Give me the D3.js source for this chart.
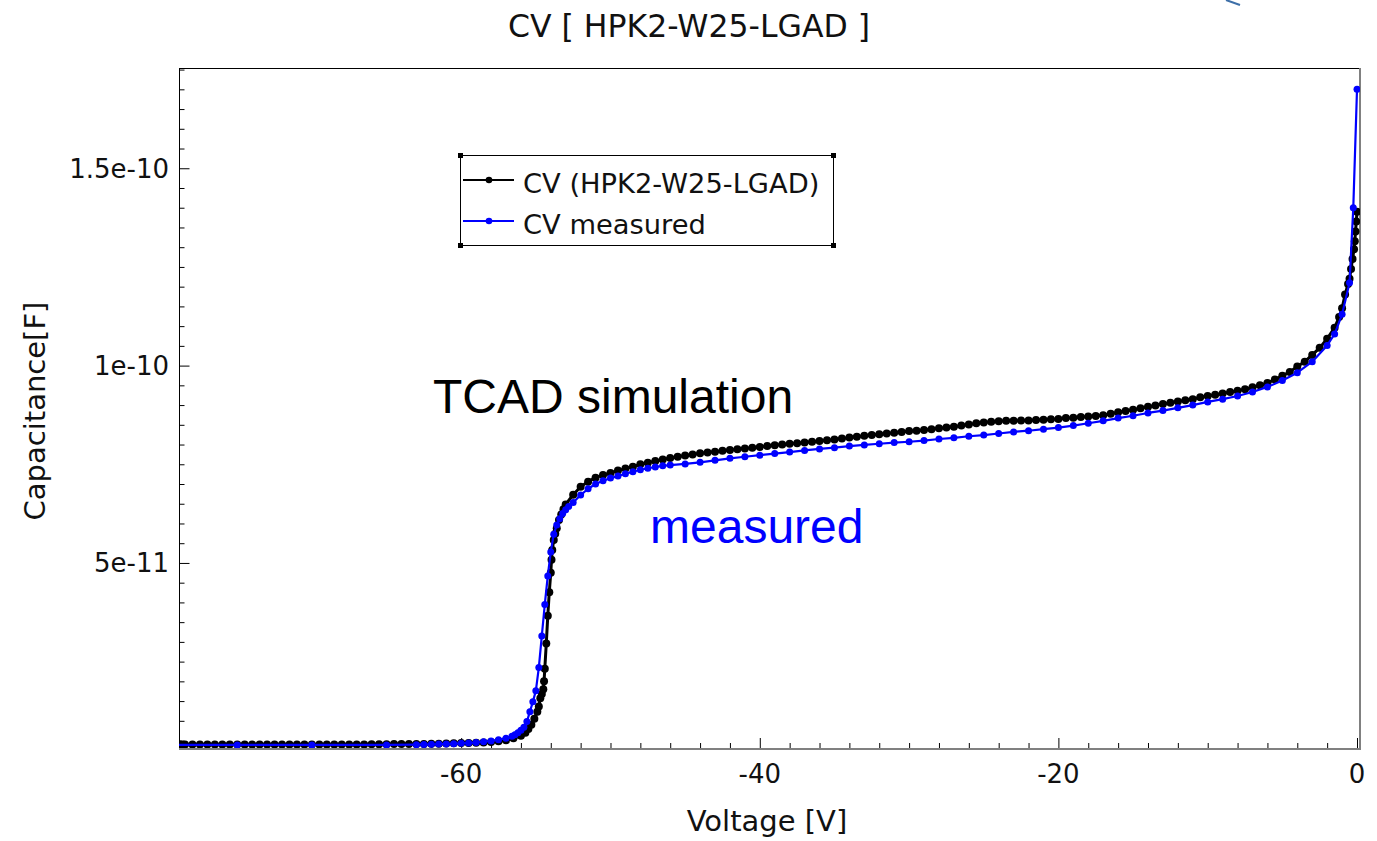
<!DOCTYPE html>
<html>
<head>
<meta charset="utf-8">
<script src="https://cdn.jsdelivr.net/npm/d3@7"></script>
<style>
  html, body { margin: 0; padding: 0; background: #fff; }
  svg { display: block; }
  text { font-family: "DejaVu Sans", sans-serif; }
</style>
</head>
<body>
<svg id="chart" width="1377" height="841"></svg>
<script>
// ---------------- DATA (capacitance in pF, voltage in V) ----------------
const titleText = "CV [ HPK2-W25-LGAD ]";
const xLabel = "Voltage [V]";
const yLabel = "Capacitance[F]";
const seriesNames = ["CV (HPK2-W25-LGAD)", "CV measured"];

const xMajorTicks = [-60, -40, -20, 0];
const xTickLabels = ["-60", "-40", "-20", "0"];
const yMajorTicks = [50, 100, 150];
const yTickLabels = ["5e-11", "1e-10", "1.5e-10"];

// TCAD simulation
const simV = [
  -78.8, -78.5, -78, -77.5, -77, -76.5, -76, -75.5, -75, -74.5, -74, -73.5, -73, -72.5, -72, -71.5, -71, -70.5, -70,
  -69.5, -69, -68.5, -68, -67.5, -67, -66.5, -66, -65.5, -65, -64.5, -64, -63.5, -63, -62.5, -62, -61.5, -61, -60.5,
  -60, -59.5, -59, -58.5, -58, -57.5, -57, -56.5, -56, -55.7, -55.5, -55.3, -55.1, -54.9, -54.8, -54.7, -54.6, -54.5,
  -54.45, -54.4, -54.3, -54.2, -54.1, -54.0, -53.95, -53.9, -53.8, -53.7, -53.6, -53.45, -53.3, -53.15,
  -53.0, -52.5, -52.0, -51.5, -51.0, -50.5, -50.0, -49.5, -49.0, -48.5, -48.0, -47.5, -47.0, -46.5, -46.0, -45.5,
  -45.0, -44.5, -44.0, -43.5, -43.0, -42.5, -42.0, -41.5, -41.0, -40.5, -40.0, -39.5, -39.0, -38.5, -38.0, -37.5,
  -37.0, -36.5, -36.0, -35.5, -35.0, -34.5, -34.0, -33.5, -33.0, -32.5, -32.0, -31.5, -31.0, -30.5, -30.0, -29.5,
  -29.0, -28.5, -28.0, -27.5, -27.0, -26.5, -26.0, -25.5, -25.0, -24.5, -24.0, -23.5, -23.0, -22.5, -22.0, -21.5,
  -21.0, -20.5, -20.0, -19.5, -19.0, -18.5, -18.0, -17.5, -17.0, -16.5, -16.0, -15.5, -15.0, -14.5, -14.0, -13.5,
  -13.0, -12.5, -12.0, -11.5, -11.0, -10.5, -10.0, -9.5, -9.0, -8.5, -8.0, -7.5, -7.0, -6.5, -6.0, -5.5,
  -5.0, -4.5, -4.0, -3.5, -3.0, -2.5, -2.0, -1.5, -1.2, -1.0, -0.8, -0.6, -0.5, -0.4, -0.3, -0.2, -0.15, -0.1, -0.05, 0
];
const simC = [
  4.0, 4.0, 4.0, 4.0, 4.0, 4.0, 4.0, 4.0, 4.0, 4.0, 4.0, 4.0, 4.0, 4.0, 4.0, 4.0, 4.0, 4.0, 4.0,
  4.0, 4.0, 4.0, 4.0, 4.0, 4.0, 4.0, 4.05, 4.05, 4.05, 4.1, 4.1, 4.1, 4.15, 4.15, 4.2, 4.2, 4.25, 4.3,
  4.35, 4.4, 4.45, 4.5, 4.65, 4.85, 5.1, 5.6, 6.2, 7.0, 7.9, 9.0, 10.5, 12.3, 13.6, 15.7, 16.8, 18.0,
  20.0, 23.2, 29.6, 36.6, 42.6, 47.5, 50.8, 53.3, 55.8, 57.4, 58.8, 60.9, 62.3, 63.6,
  64.8, 67.3, 69.3, 70.6, 71.6, 72.3, 72.8, 73.4, 73.9, 74.4, 75.0, 75.4, 75.8, 76.2, 76.6, 76.9,
  77.2, 77.5, 77.8, 78.0, 78.2, 78.4, 78.6, 78.8, 79.0, 79.2, 79.4, 79.6, 79.8, 80.0, 80.2, 80.3,
  80.5, 80.7, 80.9, 81.1, 81.3, 81.5, 81.8, 82.0, 82.2, 82.4, 82.6, 82.8, 83.0, 83.2, 83.4, 83.5,
  83.7, 83.9, 84.1, 84.3, 84.5, 84.8, 85.1, 85.4, 85.6, 85.8, 85.9, 86.0, 86.0, 86.1, 86.1, 86.2,
  86.3, 86.4, 86.5, 86.7, 86.8, 87.0, 87.1, 87.2, 87.4, 87.8, 88.2, 88.5, 88.8, 89.2, 89.6, 89.9,
  90.3, 90.6, 90.9, 91.2, 91.5, 92.0, 92.3, 92.6, 92.9, 93.3, 93.6, 94.0, 94.5, 95.0, 95.6, 96.5,
  97.4, 98.4, 99.8, 101.0, 102.7, 104.5, 106.8, 109.6, 112.3, 114.5, 118.0, 120.7, 122.0, 124.5, 127.0, 129.5, 131.5, 134.0, 136.5, 139.0
];

// measured
const measV = [
  -80, -75, -70, -65, -63.0, -62.5, -62.0, -61.5, -61.0, -60.5, -60.0, -59.5, -59.0, -58.5, -58.0, -57.5, -57.0,
  -56.6, -56.4, -56.2, -56.0, -55.8, -55.6, -55.4, -55.2, -55.0, -54.8, -54.6, -54.4, -54.2, -54.0, -53.8, -53.6,
  -53.4, -53.2, -53.0, -52.8, -52.5, -52.0, -51.5, -51.0, -50.5, -50.0, -49.5, -49.0, -48.5, -48.0, -47.5, -47.0,
  -46.5, -46.0, -45, -44, -43, -42, -41, -40, -39, -38, -37, -36, -35, -34, -33, -32, -31, -30, -29, -28, -27,
  -26, -25, -24, -23, -22, -21, -20, -19, -18, -17, -16, -15, -14, -13, -12, -11, -10, -9, -8, -7, -6, -5, -4,
  -3, -2, -1.5, -1, -0.5, -0.25, 0
];
const measC = [
  3.9, 3.9, 3.9, 3.9, 3.95, 4.0, 4.05, 4.1, 4.15, 4.2, 4.3, 4.4, 4.5, 4.7, 4.9, 5.2, 5.6,
  6.1, 6.5, 7.0, 7.6, 8.4, 9.8, 12.3, 14.8, 17.6, 23.5, 31.5, 39.5, 46.7, 52.8, 57.3, 59.6,
  61.2, 62.5, 63.5, 64.3, 65.3, 67.2, 68.8, 70.0, 70.8, 71.5, 72.0, 72.6, 73.1, 73.6, 74.0, 74.3,
  74.6, 74.8, 75.1, 75.5, 76.0, 76.5, 76.9, 77.3, 77.7, 78.1, 78.5, 78.9, 79.2, 79.6, 79.9, 80.2, 80.5, 80.7, 81.0, 81.4, 81.7,
  82.1, 82.4, 82.8, 83.2, 83.5, 83.9, 84.3, 84.8, 85.4, 86.0, 86.7, 87.3, 88.0, 88.6, 89.3, 90.0, 90.8, 91.5, 92.3, 93.3, 94.6, 96.2, 98.2,
  101.0, 105.1, 108.0, 113.0, 121.0, 140.0, 170.0
];

// ---------------- LAYOUT ----------------
const plot = { left: 179, right: 1360, top: 68, bottom: 749 };
const svg = d3.select("#chart");

const x = d3.scaleLinear().domain([-78.9, 0.2]).range([plot.left, plot.right]);
const y = d3.scaleLinear().domain([2.86, 175.4]).range([plot.bottom, plot.top]);

// frame: top and left black, right and bottom gray
svg.append("line").attr("x1", plot.left).attr("x2", plot.right).attr("y1", plot.top + 0.5).attr("y2", plot.top + 0.5)
  .attr("stroke", "#000").attr("stroke-width", 1);
svg.append("line").attr("x1", plot.left + 0.5).attr("x2", plot.left + 0.5).attr("y1", plot.top).attr("y2", plot.bottom)
  .attr("stroke", "#000").attr("stroke-width", 1);
svg.append("line").attr("x1", plot.right).attr("x2", plot.right).attr("y1", plot.top).attr("y2", plot.bottom)
  .attr("stroke", "#808080").attr("stroke-width", 2);

// y axis ticks (inside, pointing right)
const yMinor = d3.range(5, 176, 5).filter(v => !yMajorTicks.includes(v));
const yAxisMinor = d3.axisRight(y).tickValues(yMinor).tickSize(5).tickFormat("");
const yAxisMajor = d3.axisRight(y).tickValues(yMajorTicks).tickSize(10).tickFormat("");
[yAxisMinor, yAxisMajor].forEach(ax => {
  const g = svg.append("g").attr("transform", `translate(${plot.left + 0.5},0)`).call(ax);
  g.select(".domain").remove();
  g.selectAll("line").attr("stroke", "#000").attr("stroke-width", 1);
});
svg.append("g").selectAll("text").data(yMajorTicks).join("text")
  .attr("x", 169).attr("y", d => y(d)).attr("dy", "0.36em")
  .attr("text-anchor", "end").attr("font-size", 26).attr("fill", "#111")
  .text((d, i) => yTickLabels[i]);

// x axis ticks (inside, pointing up)
const xMinor = d3.range(-78, 0.1, 2).filter(v => !xMajorTicks.includes(v));
const xAxisMinor = d3.axisTop(x).tickValues(xMinor).tickSize(6).tickFormat("");
const xAxisMajor = d3.axisTop(x).tickValues(xMajorTicks).tickSize(11).tickFormat("");
[xAxisMinor, xAxisMajor].forEach(ax => {
  const g = svg.append("g").attr("transform", `translate(0,${plot.bottom})`).call(ax);
  g.select(".domain").remove();
  g.selectAll("line").attr("stroke", "#000").attr("stroke-width", 1);
});
svg.append("g").selectAll("text").data(xMajorTicks).join("text")
  .attr("x", d => x(d)).attr("y", 783)
  .attr("text-anchor", "middle").attr("font-size", 26).attr("fill", "#111")
  .text((d, i) => xTickLabels[i]);

// clip
svg.append("clipPath").attr("id", "clip").append("rect")
  .attr("x", plot.left).attr("y", plot.top - 10).attr("width", plot.right - plot.left).attr("height", plot.bottom - plot.top + 10);

const dataG = svg.append("g").attr("clip-path", "url(#clip)");
const line = d3.line().x(d => x(d[0])).y(d => y(d[1]));

const simData = simV.map((v, i) => [v, simC[i]]);
const measData = measV.map((v, i) => [v, measC[i]]);

function drawSeries(data, color, r, w) {
  dataG.append("path").datum(data).attr("d", line)
    .attr("fill", "none").attr("stroke", color).attr("stroke-width", w).attr("stroke-linejoin", "round");
  dataG.append("g").selectAll("circle").data(data).join("circle")
    .attr("cx", d => x(d[0])).attr("cy", d => y(d[1])).attr("r", r).attr("fill", color);
}
drawSeries(simData, "#000000", 4, 3);
drawSeries(measData, "#0000ff", 3.5, 2.2);

// bottom axis line (gray, drawn over data)
svg.append("line").attr("x1", plot.left).attr("x2", plot.right + 1).attr("y1", plot.bottom).attr("y2", plot.bottom)
  .attr("stroke", "#808080").attr("stroke-width", 2);

// title & axis labels
svg.append("text").attr("x", 689).attr("y", 37).attr("text-anchor", "middle")
  .attr("font-size", 31.5).attr("fill", "#111").text(titleText);
svg.append("text").attr("x", 767).attr("y", 831).attr("text-anchor", "middle")
  .attr("font-size", 29).attr("fill", "#111").text(xLabel);
svg.append("text").attr("transform", "translate(45,411) rotate(-90)").attr("text-anchor", "middle")
  .attr("font-size", 29).attr("fill", "#111").text(yLabel);

// annotations
svg.append("text").attr("x", 433).attr("y", 413)
  .style("font-family", "'Liberation Sans', Arial, sans-serif").attr("font-size", 48).attr("fill", "#000")
  .text("TCAD simulation");
svg.append("text").attr("x", 650).attr("y", 543)
  .style("font-family", "'Liberation Sans', Arial, sans-serif").attr("font-size", 48).attr("fill", "#0000ff")
  .text("measured");

// legend
const leg = { x0: 460.5, y0: 155.5, x1: 833.5, y1: 245.5 };
svg.append("rect").attr("x", leg.x0).attr("y", leg.y0).attr("width", leg.x1 - leg.x0).attr("height", leg.y1 - leg.y0)
  .attr("fill", "#fff").attr("stroke", "#000").attr("stroke-width", 1);
[[leg.x0, leg.y0], [leg.x1, leg.y0], [leg.x0, leg.y1], [leg.x1, leg.y1]].forEach(([cx, cy]) => {
  svg.append("rect").attr("x", cx - 2.5).attr("y", cy - 2.5).attr("width", 5).attr("height", 5).attr("fill", "#000");
});
const legColors = ["#000000", "#0000ff"];
const legY = [180, 221];
seriesNames.forEach((name, i) => {
  svg.append("line").attr("x1", 463).attr("x2", 514).attr("y1", legY[i]).attr("y2", legY[i])
    .attr("stroke", legColors[i]).attr("stroke-width", 2);
  svg.append("circle").attr("cx", 489).attr("cy", legY[i]).attr("r", 3.3).attr("fill", legColors[i]);
  svg.append("text").attr("x", 523).attr("y", legY[i] + 12.5).attr("font-size", 27.3).attr("fill", "#111").text(name);
});

// small artifact at top right of the reference
svg.append("path").attr("d", "M1226,0 L1240,5").attr("stroke", "#3d6fa8").attr("stroke-width", 2).attr("fill", "none");
</script>
</body>
</html>
